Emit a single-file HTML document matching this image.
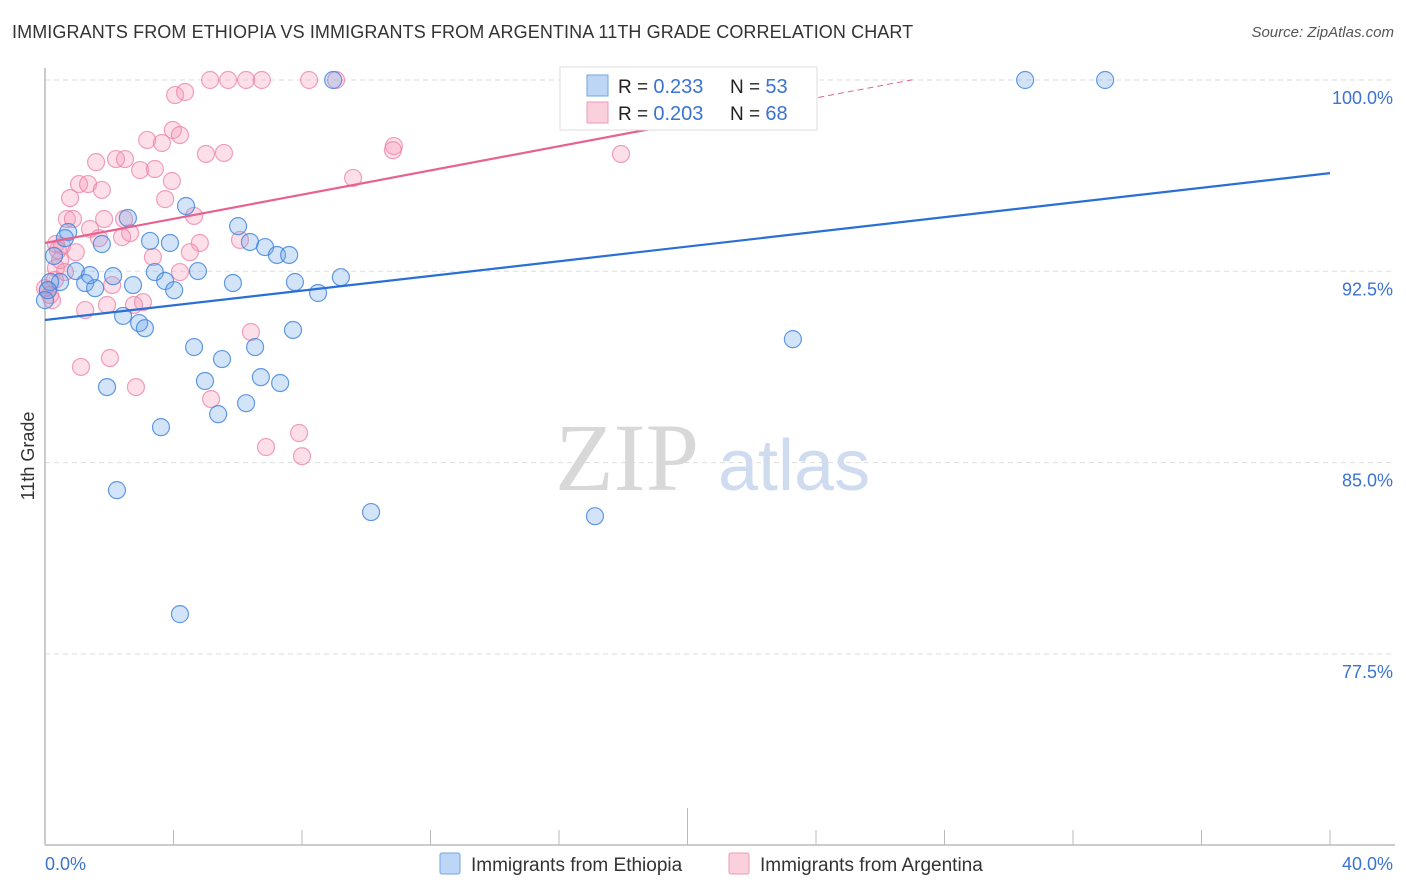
<!DOCTYPE html>
<html><head><meta charset="utf-8">
<style>
body{margin:0;background:#fff;font-family:"Liberation Sans",sans-serif;}
#wrap{position:relative;width:1406px;height:892px;overflow:hidden;}
.title{position:absolute;left:12px;top:22px;font-size:18px;color:#333;letter-spacing:0.1px;}
.source{position:absolute;right:12px;top:24px;font-size:15px;color:#555;font-style:italic;}
</style></head>
<body>
<div id="wrap">
<div class="title">IMMIGRANTS FROM ETHIOPIA VS IMMIGRANTS FROM ARGENTINA 11TH GRADE CORRELATION CHART</div>
<div class="source">Source: ZipAtlas.com</div>
<svg id="chart" width="1406" height="892" style="position:absolute;left:0;top:0"></svg>
</div>
<script>
const yTicks=[100,92.5,85,77.5];
const yTickLabels=["100.0%","92.5%","85.0%","77.5%"];
const xTickLabels=["0.0%","40.0%"];
const seriesNames=["Immigrants from Ethiopia","Immigrants from Argentina"];
const rValues=["0.233","0.203"];
const nValues=["53","68"];
const ethX=[8.97,30.51,33.0,4.39,6.01,2.58,0.72,1.77,3.27,3.89,6.38,6.85,7.22,7.60,0.28,0.96,2.12,3.42,4.76,9.21,0.47,1.25,1.56,2.74,3.74,4.02,5.85,7.78,8.50,2.43,2.93,3.11,7.72,4.64,5.51,6.54,23.28,4.98,6.72,7.32,1.93,6.26,5.39,3.61,2.24,10.15,17.12,4.20,0.16,0.09,0.0,1.40,0.62];
const ethY=[100,100,100,95.06,94.27,94.59,94.04,93.57,93.69,93.61,93.65,93.45,93.14,93.14,93.1,92.51,92.31,92.47,92.51,92.27,92.08,92.04,91.84,91.96,92.12,91.76,92.04,92.08,91.65,90.75,90.47,90.27,90.2,89.53,89.06,89.53,89.84,88.2,88.35,88.12,87.96,87.33,86.9,86.39,83.92,83.06,82.9,79.06,92.08,91.76,91.37,92.35,93.8];
const argX=[5.14,5.70,6.26,6.75,8.22,9.06,4.05,4.36,3.98,4.20,3.18,3.64,10.86,10.83,5.01,5.57,17.93,2.21,2.49,1.59,2.96,3.42,3.95,1.06,1.34,1.77,9.59,0.78,3.74,2.46,1.84,0.68,0.87,4.64,1.40,2.65,2.40,1.68,4.82,6.07,0.34,0.53,4.51,0.96,3.36,0.34,4.20,2.09,0.09,0.16,1.93,3.05,2.77,1.25,6.41,2.02,1.12,2.83,5.17,7.91,6.88,8.0,0.0,0.31,0.47,0.62,0.22,0.40];
const argY=[100,100,100,100,100,100,99.41,99.53,98.04,97.84,97.65,97.53,97.41,97.25,97.1,97.14,97.1,96.9,96.9,96.78,96.47,96.51,96.04,95.92,95.92,95.69,96.16,95.37,95.33,94.55,94.55,94.55,94.55,94.67,94.16,94.0,93.84,93.8,93.61,93.73,93.57,93.49,93.25,93.25,93.06,92.63,92.47,91.96,91.76,91.57,91.18,91.29,91.18,90.98,90.12,89.1,88.75,87.96,87.49,86.16,85.61,85.25,91.84,92.16,92.94,92.47,91.37,93.33];
const ethTrend=[90.59,96.35]; // y at x=0 and x=40
const argTrend=[93.61,0.237]; // intercept, slope
const argSolidEnd=20.4, argDashEnd=27;

const X0=45,X1=1330,Y100=80,PXPER=191.3/7.5;
const sx=v=>X0+(v/40)*(X1-X0);
const sy=v=>Y100+(100-v)*PXPER;
const svg=document.getElementById('chart');
const NS='http://www.w3.org/2000/svg';
function mk(t,a){const e=document.createElementNS(NS,t);for(const k in a)e.setAttribute(k,a[k]);svg.appendChild(e);return e;}

// gridlines
yTicks.forEach((t,i)=>{
  const g=mk('line',{x1:X0,x2:1395,y1:sy(t),y2:sy(t),stroke:'#ddd','stroke-dasharray':'5,4','stroke-width':1});
  
  
  const l=mk('text',{x:1393,y:sy(t)+24,'text-anchor':'end','font-size':18,fill:'#3b73d0','font-family':'Liberation Sans, sans-serif'});
  l.textContent=yTickLabels[i];
  
  
});
// axes
let ax=mk('line',{x1:X0,x2:X0,y1:68,y2:845,stroke:'#bbb','stroke-width':1.5});


let bx=mk('line',{x1:X0,x2:1395,y1:845,y2:845,stroke:'#bbb','stroke-width':1.5});


for(let i=1;i<=10;i++){
  const x=sx(i*4);
  const t=mk('line',{x1:x,x2:x,y1:i==5?808:830,y2:845,stroke:'#bbb','stroke-width':1});
  
  
}
// watermark
let wm=mk('text',{x:555,y:490,'font-size':96,fill:'#d8d8d8','font-family':'Liberation Serif, serif'});wm.textContent='ZIP';


let wm2=mk('text',{x:718,y:490,'font-size':72,fill:'#cfdcf0','font-family':'Liberation Sans, sans-serif'});wm2.textContent='atlas';



// points
function pts(xs,ys,fill,stroke,name){
  xs.forEach((v,i)=>{
    const c=mk('circle',{cx:sx(v),cy:sy(ys[i]),r:8.5,fill:fill,stroke:stroke,'stroke-width':1.2});
    
    
  });
}
pts(argX,argY,'rgba(244,150,180,0.3)','rgba(236,130,165,0.75)','argentina-point');
pts(ethX,ethY,'rgba(110,165,235,0.3)','rgba(60,130,220,0.8)','ethiopia-point');

// trend lines
let tl=mk('line',{x1:sx(0),y1:sy(ethTrend[0]),x2:sx(40),y2:sy(ethTrend[1]),stroke:'#2a6fd6','stroke-width':2.2});


let pl=mk('line',{x1:sx(0),y1:sy(argTrend[0]),x2:sx(argSolidEnd),y2:sy(argTrend[0]+argTrend[1]*argSolidEnd),stroke:'#e8628f','stroke-width':2.2});


let pd=mk('line',{x1:sx(argSolidEnd),y1:sy(argTrend[0]+argTrend[1]*argSolidEnd),x2:sx(argDashEnd),y2:sy(argTrend[0]+argTrend[1]*argDashEnd),stroke:'#e8628f','stroke-width':1,'stroke-dasharray':'6,4'});



// y-axis title
let yt=mk('text',{x:34,y:456,'font-size':18,fill:'#333','text-anchor':'middle',transform:'rotate(-90 34 456)','font-family':'Liberation Sans, sans-serif'});
yt.textContent='11th Grade';



// x labels
let xl0=mk('text',{x:45,y:870,'font-size':18,fill:'#3b73d0','font-family':'Liberation Sans, sans-serif'});xl0.textContent=xTickLabels[0];


let xl1=mk('text',{x:1393,y:870,'font-size':18,fill:'#3b73d0','text-anchor':'end','font-family':'Liberation Sans, sans-serif'});xl1.textContent=xTickLabels[1];



// bottom legend
const legCols=[['rgba(110,165,235,0.45)','#6fa4e6'],['rgba(244,150,180,0.45)','#ee9ab6']];
const legX=[440,729];
seriesNames.forEach((n,i)=>{
  const r=mk('rect',{x:legX[i],y:853,width:20,height:21,fill:legCols[i][0],stroke:legCols[i][1],'stroke-width':1,rx:2});
  
  
  const t=mk('text',{x:legX[i]+31,y:871,'font-size':19,fill:'#333','font-family':'Liberation Sans, sans-serif'});
  t.textContent=n;
  
  
});

// stats legend
let box=mk('rect',{x:560,y:67,width:257,height:63,fill:'#fff',stroke:'#ddd','stroke-width':1});


[0,1].forEach(i=>{
  const y=75+i*27;
  const r=mk('rect',{x:587,y:y,width:21,height:21,fill:legCols[i][0],stroke:legCols[i][1],'stroke-width':1});
  
  
  const t=mk('text',{x:618,y:y+18,'font-size':19,fill:'#222','font-family':'Liberation Sans, sans-serif'});
  t.innerHTML='R = <tspan fill="#3b73d0" font-size="20"> '+rValues[i]+'</tspan><tspan x="730">N = </tspan><tspan fill="#3b73d0" font-size="20">'+nValues[i]+'</tspan>';
  
  
});
</script>
</body></html>
